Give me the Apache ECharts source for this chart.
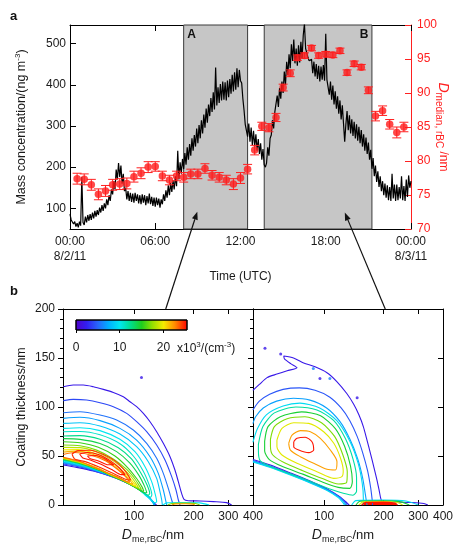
<!DOCTYPE html>
<html>
<head>
<meta charset="utf-8">
<script src="https://cdn.jsdelivr.net/npm/echarts@6/dist/echarts.min.js"></script>
<style>
  html, body { margin: 0; padding: 0; background: #fff; }
  #chart { width: 454px; height: 548px; }
</style>
</head>
<body>
<div id="chart"></div>
<script>
// ---------- Panel a: rBC mass concentration, 5-minute samples from 00:00 8/2/11 ----------
const massStepHours = 1 / 12;
const massConc = [
  86, 72, 76, 62, 68, 56, 64, 54, 68, 58, 176, 66,
  60, 80, 66, 84, 70, 86, 72, 90, 76, 94, 80, 96,
  84, 102, 90, 108, 94, 112, 100, 122, 108, 132, 118, 146,
  134, 166, 146, 194, 170, 210, 176, 204, 160, 184, 142, 150,
  122, 142, 118, 138, 116, 136, 114, 138, 118, 134, 112, 132,
  110, 134, 114, 132, 108, 130, 112, 136, 110, 128, 106, 126,
  104, 126, 108, 124, 102, 122, 110, 134, 118, 144, 126, 156,
  132, 162, 140, 168, 146, 178, 154, 240, 170, 212, 184, 220,
  196, 234, 206, 248, 218, 256, 228, 270, 240, 278, 250, 294,
  258, 302, 270, 314, 282, 328, 296, 342, 308, 352, 324, 368,
  334, 382, 340, 442, 350, 394, 356, 402, 362, 408, 364, 406,
  362, 410, 370, 414, 378, 424, 384, 430, 388, 440, 394, 436,
  410, 404, 366, 338, 304, 304, 274, 306, 262, 296, 254, 288,
  250, 280, 240, 268, 232, 258, 218, 244, 206, 200, 210, 248,
  228, 270, 278, 314, 294, 334, 330, 374, 346, 392, 366, 408,
  380, 432, 400, 456, 424, 474, 440, 498, 458, 510, 452, 488,
  446, 496, 454, 504, 464, 520, 548, 488, 490, 466, 458, 456,
  462, 428, 456, 420, 450, 414, 446, 408, 444, 412, 448, 410,
  524, 412, 414, 376, 408, 364, 398, 352, 384, 342, 372, 330,
  362, 316, 350, 306, 262, 304, 336, 290, 326, 282, 316, 276,
  310, 270, 304, 264, 298, 258, 290, 250, 280, 240, 272, 232,
  260, 218, 242, 196, 222, 178, 204, 164, 190, 152, 178, 142,
  166, 132, 160, 126, 156, 120, 152, 118, 184, 124, 158, 118,
  158, 120, 152, 124, 178, 120, 154, 118, 170, 128, 180, 150,
  166
];

// Median rBC core diameter (nm), half-hourly, with uncertainty
const dMedianHours = [0.5, 1, 1.5, 2, 2.5, 3, 3.5, 4, 4.5, 5, 5.5, 6, 6.5, 7, 7.5, 8, 8.5, 9, 9.5, 10, 10.5, 11, 11.5, 12,
  12.5, 13, 13.5, 14, 14.5, 15, 15.5, 16, 16.5, 17, 17.5, 18, 18.5, 19, 19.5, 20, 20.5, 21, 21.5, 22, 22.5, 23, 23.5];
const dMedian = [77.4, 77.3, 76.5, 75.1, 75.6, 76.5, 76.6, 76.7, 77.7, 78.2, 79.1, 79.2, 77.8, 77.2, 77.8, 77.6, 78.1, 78.1, 78.9, 77.9, 77.6, 77.2, 76.6, 77.5,
  78.8, 81.6, 85.1, 84.9, 86.4, 90.8, 92.9, 95.2, 95.5, 96.6, 95.5, 95.7, 95.6, 96.2, 93.0, 94.3, 93.8, 90.4, 86.6, 87.4, 85.4, 84.2, 85.0];
const dMedianErr = [0.8, 0.8, 0.8, 0.8, 0.8, 0.8, 0.8, 0.8, 0.8, 0.8, 0.8, 0.7, 0.7, 0.7, 0.7, 0.7, 0.7, 0.7, 0.7, 0.7, 0.7, 0.7, 0.8, 0.8,
  0.7, 0.7, 0.6, 0.6, 0.6, 0.5, 0.5, 0.4, 0.4, 0.4, 0.4, 0.4, 0.4, 0.4, 0.4, 0.4, 0.4, 0.5, 0.7, 0.7, 0.7, 0.8, 0.7];

// Sampling periods used for panel b
const periods = [
  { name: 'A', from: 8.0, to: 12.5 },
  { name: 'B', from: 13.67, to: 21.25 }
];

// Tick values and labels
const timeTicks = [0, 6, 12, 18, 24];
const timeTickLabels = ['00:00\n8/2/11', '06:00', '12:00', '18:00', '00:00\n8/3/11'];
const massTicks = [100, 200, 300, 400, 500];
const sizeTicks = [100, 200, 300, 400];
const colorbarTicks = [0, 10, 20];

// ---------- Panel b: number-concentration contours, [D_me,rBC (nm), coating (nm)] ----------
const leftContours = [
  { level: 2, lines: [
    [[43.8,120.7],[49.2,122.4],[55.3,122.4],[62.2,120.7],[69.9,118],[78.5,114.9],[88.2,110.5],[95.3,105.4],[103,100.3],[111.4,93.5],[120.4,85],[130.1,74.8],[140.6,62.9],[152,49.3],[161,35.7],[167.5,23.8],[174,11.9],[179,5.8],[188,4.4],[216,4.1],[252,3.4],[294,2.4],[312,0]],
    [[43.8,40.8],[51.2,38.4],[62.2,34.7],[75.5,29.6],[91.7,22.8],[107.1,15.3],[118,8.5],[128,1],[130,0]]
  ]},
  { level: 4, lines: [
    [[43.8,106.5],[49.2,107.8],[57.5,107.1],[67.2,104.4],[78.5,100.3],[91.7,93.5],[103,85],[115.8,74.8],[130.1,61.2],[143.4,45.9],[155,28.9],[163,15.3],[167.5,5.1],[170.8,0]],
    [[43.8,41.8],[53.2,38.7],[67.2,32.9],[84.8,25.9],[103,17.2],[118,8.7],[127,1.5],[128.5,0]]
  ]},
  { level: 5.5, lines: [
    [[43.8,94.2],[53.2,95.2],[67.2,91.8],[81.6,86.7],[99.1,76.5],[115.8,62.9],[130.1,47.6],[140.6,32.3],[149,17],[155,5.1],[158,0]],
    [[43.8,42.8],[53.2,39.5],[67.2,33.5],[84.8,26.3],[103,17.4],[117,9],[126,2],[127.5,0]]
  ]},
  { level: 7, lines: [
    [[43.8,88.4],[53.2,89.5],[67.2,86.1],[84.8,78.2],[103,66.3],[120.4,49.3],[132.6,32.3],[140.6,15.3],[145,3.4],[146.2,0]],
    [[43.8,43.5],[53.2,40.1],[67.2,33.9],[84.8,26.6],[103,17.5],[116,9.5],[125,2.5],[127,0]]
  ]},
  { level: 8.5, lines: [
    [[43.8,83.3],[53.2,84],[67.2,80.6],[84.8,72.4],[103,59.5],[118,44.2],[130.1,27.2],[135.2,13.6],[138,5.1],[139,0]],
    [[43.8,44.2],[53.2,40.7],[67.2,34.3],[84.8,26.9],[103,17.7],[115,10],[124,3],[126,0]]
  ]},
  { level: 10, lines: [
    [[43.8,78.2],[53.2,78.9],[67.2,75.9],[84.8,67],[101,54.4],[113.6,39.1],[122.7,23.8],[127.6,11.9],[130.1,3.4],[127,2.4],[123,4.8],[114,10],[103,17.5],[84.8,27],[67.2,34.8],[53.2,41.3],[43.8,44.9]]
  ]},
  { level: 11, lines: [
    [[43.8,74.8],[53.2,75],[67.2,71.6],[84.8,62.5],[99.1,50],[111,35],[119,21],[123,10.5],[121,7.8],[116,10.3],[103,17.5],[84.8,27],[67.2,34.9],[53.2,41.7],[43.8,45.6]]
  ]},
  { level: 12.5, lines: [
    [[43.8,70.4],[53.2,70.8],[67.2,67],[83.2,58.5],[97,47],[108,33],[116,21],[120,12],[118,10],[113,11.6],[103,17.4],[88,25],[76,30.2],[67.2,35],[53.2,42.1],[43.8,45.9]]
  ]},
  { level: 14, lines: [
    [[43.8,67.7],[53.2,67],[67.2,62.8],[81.6,54.5],[95,43],[106,30],[113,19],[116,12.5],[112,12.8],[103,17.5],[89,24.8],[76,30.5],[67.2,35.3],[53.2,42.6],[43.8,46.6]]
  ]},
  { level: 15.5, lines: [
    [[43.8,64.6],[53.2,63.6],[65.9,59],[80,50],[93,38],[103,27],[110,18],[112,14],[108,14.5],[100,18.5],[88,24.5],[76,30],[67.2,35.5],[53.2,42.8],[43.8,46.9]]
  ]},
  { level: 17, lines: [
    [[43.8,61.2],[53.2,60.5],[64.6,56],[78.5,47],[92,36],[101,26.5],[107,18.5],[109,15.8],[105,16.8],[98,20],[87,25.5],[76,30.8],[67.2,36],[53.2,43.2],[43.8,47.3]]
  ]},
  { level: 18.5, lines: [
    [[43.8,58.8],[53.2,58.5],[64.6,54],[78.5,45],[91,34.5],[99,26],[104,19.5],[105.5,17.5],[102,18.6],[96,21.5],[86,26.2],[75,31.5],[67.2,36.3],[53.2,43.5],[43.8,47.6]]
  ]},
  { level: 20, lines: [
    [[43.8,56.3],[52.2,56.5],[63.4,52.5],[75.5,44.5],[88,34],[96,26.5],[101,21],[102,19.5],[99,20.2],[94,22.6],[85,27],[74,32.2],[67.2,36.6],[53.2,43.8],[43.8,47.9]]
  ]},
  { level: 21.5, lines: [
    [[43.8,54],[51.2,55],[62.2,51.5],[75.5,43],[86,34],[93,27.5],[98,22],[99,21],[96,21.8],[92,23.8],[83,28],[73,33],[65,37.8],[53.2,44.1],[43.8,48.3]]
  ]},
  { level: 23, lines: [
    [[43.8,51.5],[50,53.5],[60,51],[72,45],[84,35],[91,28.5],[95,23.5],[92,23.8],[88,25.5],[80,29.5],[70,34.5],[62,38.8],[53.2,44.4],[43.8,48.6]]
  ]},
  { level: 24.5, lines: [
    [[48.5,52],[52,55.5],[60,55.8],[70,51.5],[80,45],[88,37],[94,29.5],[96,25.5],[92,25.8],[85,28.8],[76,33.5],[66,39],[57,44],[50,47],[48.5,52]]
  ]},
  { level: 25, lines: [
    [[53,52],[58,53.5],[66,51.5],[76,45],[84,38],[90,31],[86,31],[78,35.5],[68,41.5],[60,46],[55,48],[53,52]],
    [[58,50],[64,50.5],[72,46.5],[79,41],[74,41],[66,45],[60,47.2],[58,50]]
  ]},
  // uncoated-rBC mode along the bottom axis
  { level: 10, lines: [[[140,0],[146,2.2],[175,2.6],[215,2.2],[240,0]]] },
  { level: 17, lines: [[[148,0],[155,1.6],[180,1.9],[205,1.5],[215,0]]] },
  { level: 22, lines: [[[155,0],[162,1.1],[183,1.2],[198,0.9],[203,0]]] }
];
const leftIslands = [[109, 130, 2]];

const rightContours = [
  { level: 2, lines: [
    [[43.6,117],[47,123],[51.4,130],[57.7,133.6],[65,137],[72.9,140],[68,144],[63,149],[62.5,152],[70,150],[78.8,145],[90,141],[103.4,135],[116,126],[130,114],[141,103],[150,92],[158,80],[165,66],[172,52],[179,38],[185,26],[190,15],[194,6],[198,3.5],[230,3],[280,2.5],[320,1.5],[335,0]],
    [[43.6,46.5],[53,41],[67,33],[85,24.5],[103,16.5],[120,8.5],[131,2],[134,0]]
  ]},
  { level: 4.5, lines: [
    [[43.6,97],[47,106],[53,113],[62,118],[75,119.5],[90,117],[107,110],[122,99],[135,86],[147,70],[157,53],[166,35],[172,18],[175,6],[176,0]],
    [[43.6,45.5],[53,40],[67,32.2],[85,23.8],[103,16],[120,8],[129,2],[131,0]]
  ]},
  { level: 7, lines: [
    [[43.6,83],[45,90],[49.2,99],[57.5,106],[69.9,109],[84.8,107],[103,99],[120.4,85],[135.2,67],[148,47],[157,27],[162,10],[164,3],[165,0]],
    [[43.6,44.5],[53,39],[67,31.4],[85,23],[103,15.5],[120,7.5],[127,2],[129,0]]
  ]},
  { level: 9.5, lines: [
    [[43.6,64],[46,78],[51,92],[62,101],[75.5,104],[95,99],[116,86],[135,65],[149,42],[156,22],[158,7],[158,0]],
    [[43.6,44],[53,38.5],[67,30.8],[85,22.5],[103,15],[118,7.5],[125,2],[127,0]]
  ]},
  { level: 12, lines: [
    [[46.5,62],[49,80],[56,94],[72,100],[92,97],[112,86],[128,68],[140,47],[146,28],[146,14],[140,10],[125,12],[108,16],[88,23],[68,31.5],[54,39],[47.5,45],[46.5,55],[46.5,62]]
  ]},
  { level: 14.5, lines: [
    [[50,65],[52,80],[60,90],[77,95],[96,91],[114,78],[127,60],[136,40],[139,24],[135,17],[118,18],[98,23.5],[78,31.5],[62,39],[53,46],[50,55],[50,65]]
  ]},
  { level: 17, lines: [
    [[53.5,67],[56,80],[65,88],[80,90],[97,84],[113,70],[124,52],[131,34],[130,23],[118,21.5],[98,27],[78,35],[63,43],[55,51],[53.5,60],[53.5,67]]
  ]},
  { level: 19.5, lines: [
    [[57.7,66.3],[61.2,78.2],[70.2,84],[83.6,83.3],[99.5,74.8],[112,63],[121,48],[125,35],[123,28.9],[111.8,27.2],[92,34],[72.9,42.5],[61.2,51],[57.7,59.5],[57.7,66.3]]
  ]},
  { level: 22, lines: [
    [[66.2,62.9],[68.8,71.4],[75.8,75.9],[85.2,74.8],[95.7,68],[107.5,56.1],[116.2,44.2],[114,35.7],[103.4,36.4],[88.6,42.5],[75.8,49.3],[67.5,56.1],[66.2,62.9]]
  ]},
  { level: 25, lines: [
    [[70.2,64.6],[72.9,68],[80.3,69.1],[86.8,64.6],[88.6,56.1],[83.6,53.4],[74.4,56.1],[70.2,59.5],[70.2,64.6]]
  ]},
  // uncoated-rBC mode along the bottom axis
  { level: 9.5, lines: [[[138,0],[145,4.5],[200,5],[260,4],[300,0]]] },
  { level: 14.5, lines: [[[145,0],[152,3.8],[200,4.2],[245,3.2],[270,0]]] },
  { level: 19.5, lines: [[[150,0],[158,3.2],[200,3.5],[235,2.5],[250,0]]] },
  { level: 25, fill: true, lines: [[[155,0],[162,2.6],[200,2.8],[228,1.8],[235,0]]] }
];
const rightIslands = [[50.2, 160, 2], [60.3, 154, 2], [88.2, 139.4, 6], [95.3, 129, 2], [107, 129, 6], [147, 109.5, 2]];

// Colour scale (x10^3 cm^-3) shared by the contours and the colour bar
const colorStops = [
  [0, [80, 0, 200]], [2.5, [50, 30, 240]], [5, [40, 100, 250]], [7.5, [0, 175, 255]],
  [10, [0, 230, 240]], [12.5, [0, 220, 140]], [15, [30, 205, 30]], [17.5, [150, 225, 0]],
  [20, [245, 235, 0]], [22.5, [255, 140, 0]], [25, [255, 20, 0]]
];
const colorbarMax = 25.4;

function colorFor(level) {
  for (let i = 1; i < colorStops.length; i++) {
    const [v0, c0] = colorStops[i - 1];
    const [v1, c1] = colorStops[i];
    if (level <= v1) {
      const f = (level - v0) / (v1 - v0);
      const c = c0.map((x, k) => Math.round(x + (c1[k] - x) * f));
      return 'rgb(' + c.join(',') + ')';
    }
  }
  const last = colorStops[colorStops.length - 1][1];
  return 'rgb(' + last.join(',') + ')';
}

const FONT = 'Liberation Sans';
const TXT = '#1a1a1a';
const RED = '#ff2020';

const chart = echarts.init(document.getElementById('chart'), null, { renderer: 'canvas' });

const logMin = 1.64;
const logMax = Math.log10(400);
const sizeTickLogs = sizeTicks.map(v => Math.log10(v));

const subRich = {
  d: { fontSize: 14, fontStyle: 'italic', fontFamily: FONT, color: TXT, lineHeight: 17 },
  s: { fontSize: 9, fontFamily: FONT, color: TXT, lineHeight: 17, verticalAlign: 'bottom', padding: [6, 0, 0, 0] },
  n: { fontSize: 13, fontFamily: FONT, color: TXT, lineHeight: 17 }
};

function sizeAxisBottom(grid) {
  return {
    type: 'value', gridIndex: grid, position: 'bottom', min: logMin, max: logMax,
    axisLine: { onZero: false, lineStyle: { color: '#000', width: 1 } },
    axisTick: { inside: true, length: 5, customValues: sizeTickLogs, lineStyle: { color: '#000' } },
    axisLabel: { customValues: sizeTickLogs, formatter: v => String(Math.round(Math.pow(10, v))), margin: 6, fontSize: 12, color: TXT, fontFamily: FONT },
    splitLine: { show: false },
    name: '{d|D}{s|me,rBC}{n|/nm}', nameLocation: 'middle', nameGap: 22,
    nameTextStyle: { rich: subRich, padding: [0, 10, 0, 0] }
  };
}
function sizeAxisTop(grid) {
  return {
    type: 'value', gridIndex: grid, position: 'top', min: logMin, max: logMax,
    axisLine: { onZero: false, lineStyle: { color: '#000', width: 1 } },
    axisTick: { inside: true, length: 5, customValues: sizeTickLogs.slice(0, 3), lineStyle: { color: '#000' } },
    axisLabel: { show: false }, splitLine: { show: false }
  };
}
function coatingAxis(grid, pos, opts) {
  return Object.assign({
    type: 'value', gridIndex: grid, position: pos, min: 0, max: 200, interval: 50,
    axisLine: { show: true, onZero: false, lineStyle: { color: '#000', width: 1 } },
    axisTick: { inside: pos === 'right', length: 5, lineStyle: { color: '#000' } },
    axisLabel: { show: false }, splitLine: { show: false }
  }, opts || {});
}

const series = [];

// Black trace of mass concentration, with sampling periods shaded behind it
series.push({
  type: 'line', xAxisIndex: 0, yAxisIndex: 0, z: 3,
  data: massConc.map((v, i) => [i * massStepHours, v]),
  showSymbol: false, symbol: 'none', clip: true, silent: true,
  lineStyle: { color: '#000', width: 1.2 },
  markArea: {
    silent: true,
    itemStyle: { color: '#c6c6c6', borderColor: '#3a3a3a', borderWidth: 1 },
    label: { show: true, fontWeight: 'bold', fontSize: 12, color: '#111', fontFamily: FONT, distance: 4 },
    data: periods.map(p => [
      { name: p.name, xAxis: p.from, label: { position: p.name === 'A' ? 'insideTopLeft' : 'insideTopRight' } },
      { xAxis: p.to }
    ])
  }
});

// Error bars for the median diameter
series.push({
  type: 'custom', xAxisIndex: 0, yAxisIndex: 1, z: 4, silent: true,
  data: dMedianHours.map((t, i) => [t, dMedian[i], dMedianErr[i]]),
  encode: { x: 0, y: 1 },
  renderItem: function (params, api) {
    const t = api.value(0), v = api.value(1), e = api.value(2);
    const top = api.coord([t, v + e]);
    const bot = api.coord([t, v - e]);
    const w = 4.5;
    const st = { stroke: RED, lineWidth: 1 };
    return {
      type: 'group', children: [
        { type: 'line', shape: { x1: top[0], y1: top[1], x2: bot[0], y2: bot[1] }, style: st },
        { type: 'line', shape: { x1: top[0] - w, y1: top[1], x2: top[0] + w, y2: top[1] }, style: st },
        { type: 'line', shape: { x1: bot[0] - w, y1: bot[1], x2: bot[0] + w, y2: bot[1] }, style: st }
      ]
    };
  }
});

// Median diameter markers
series.push({
  type: 'scatter', xAxisIndex: 0, yAxisIndex: 1, z: 5, silent: true,
  data: dMedianHours.map((t, i) => [t, dMedian[i]]),
  symbol: 'circle', symbolSize: 7.5,
  itemStyle: { color: '#ff1a1a' }
});

// Contour lines for both size/coating panels
function addContours(contours, axisIndex) {
  contours.forEach(c => {
    const col = colorFor(c.level);
    c.lines.forEach(line => {
      const s = {
        type: 'line', xAxisIndex: axisIndex, yAxisIndex: axisIndex, z: 2, silent: true,
        data: line.map(p => [Math.log10(p[0]), p[1]]),
        showSymbol: false, symbol: 'none', smooth: 0.25, clip: true,
        lineStyle: { color: col, width: c.fill ? 1.5 : 1.1 }
      };
      if (c.fill) s.areaStyle = { color: col, opacity: 1 };
      series.push(s);
    });
  });
}
addContours(leftContours, 2);
addContours(rightContours, 4);

function addIslands(islands, axisIndex) {
  series.push({
    type: 'scatter', xAxisIndex: axisIndex, yAxisIndex: axisIndex, z: 2, silent: true,
    data: islands.map(p => ({ value: [Math.log10(p[0]), p[1]], itemStyle: { color: colorFor(p[2]) } })),
    symbol: 'circle', symbolSize: 3
  });
}
addIslands(leftIslands, 2);
addIslands(rightIslands, 4);

// Colour bar
series.push({
  type: 'custom', xAxisIndex: 6, yAxisIndex: 6, silent: true, z: 2,
  data: [[0, 1]],
  renderItem: function (params, api) {
    const a = api.coord([0, 1]);
    const b = api.coord([colorbarMax, 0]);
    const stops = colorStops.map(([v, c]) => ({ offset: v / colorbarMax, color: 'rgb(' + c.join(',') + ')' }));
    stops.push({ offset: 1, color: 'rgb(' + colorStops[colorStops.length - 1][1].join(',') + ')' });
    return {
      type: 'rect',
      shape: { x: a[0], y: a[1], width: b[0] - a[0], height: b[1] - a[1] },
      style: { fill: new echarts.graphic.LinearGradient(0, 0, 1, 0, stops), stroke: '#000', lineWidth: 1 }
    };
  }
});

const gridBase = { outerBoundsMode: 'none', containLabel: false };
const option = {
  animation: false,
  backgroundColor: '#fff',
  textStyle: { fontFamily: FONT },
  grid: [
    Object.assign({ left: 70, top: 25, width: 341, height: 204 }, gridBase),
    Object.assign({ left: 63, top: 309, width: 190, height: 196 }, gridBase),
    Object.assign({ left: 253, top: 309, width: 190, height: 196 }, gridBase),
    Object.assign({ left: 76, top: 320, width: 111, height: 10 }, gridBase)
  ],
  xAxis: [
    {
      type: 'value', gridIndex: 0, position: 'bottom', min: 0, max: 24, interval: 6,
      axisLine: { onZero: false, lineStyle: { color: '#000', width: 1 } },
      axisTick: { inside: true, length: 6, lineStyle: { color: '#000' } },
      axisLabel: {
        formatter: v => timeTickLabels[timeTicks.indexOf(v)] || '',
        fontSize: 12, lineHeight: 15, color: TXT, margin: 5, fontFamily: FONT
      },
      splitLine: { show: false },
      name: 'Time (UTC)', nameLocation: 'middle', nameGap: 42,
      nameTextStyle: { fontSize: 12, color: TXT, fontFamily: FONT }
    },
    {
      type: 'value', gridIndex: 0, position: 'top', min: 0, max: 24, interval: 6,
      axisLine: { onZero: false, lineStyle: { color: '#000', width: 1 } },
      axisTick: { inside: true, length: 6, lineStyle: { color: '#000' } },
      axisLabel: { show: false }, splitLine: { show: false }
    },
    sizeAxisBottom(1),
    sizeAxisTop(1),
    sizeAxisBottom(2),
    sizeAxisTop(2),
    {
      type: 'value', gridIndex: 3, position: 'bottom', min: 0, max: colorbarMax,
      axisLine: { show: false, onZero: false },
      axisTick: { inside: false, length: 3, customValues: colorbarTicks, lineStyle: { color: '#000' } },
      axisLabel: { customValues: colorbarTicks, fontSize: 12, color: TXT, margin: 12, fontFamily: FONT },
      splitLine: { show: false }
    }
  ],
  yAxis: [
    {
      type: 'value', gridIndex: 0, position: 'left', min: 50, max: 545,
      axisLine: { show: true, onZero: false, lineStyle: { color: '#000', width: 1 } },
      axisTick: { inside: true, length: 6, customValues: massTicks, lineStyle: { color: '#000' } },
      axisLabel: { customValues: massTicks, fontSize: 12, color: TXT, margin: 4, fontFamily: FONT },
      splitLine: { show: false },
      name: '{n|Mass concentration/(ng m}{p|-3}{n|)}', nameLocation: 'middle', nameGap: 40,
      nameTextStyle: {
        rich: {
          n: { fontSize: 12.5, color: TXT, fontFamily: FONT, lineHeight: 16 },
          p: { fontSize: 8, color: TXT, fontFamily: FONT, lineHeight: 16, verticalAlign: 'top', padding: [0, 0, 6, 0] }
        }
      }
    },
    {
      type: 'value', gridIndex: 0, position: 'right', min: 70, max: 100, interval: 5,
      axisLine: { show: true, onZero: false, lineStyle: { color: RED, width: 1 } },
      axisTick: { inside: true, length: 6, lineStyle: { color: RED } },
      axisLabel: { fontSize: 12, color: RED, margin: 6, fontFamily: FONT },
      splitLine: { show: false }
    },
    coatingAxis(1, 'left', {
      axisTick: { inside: false, length: 5, lineStyle: { color: '#000' } },
      minorTick: { show: true, splitNumber: 5, length: 3, lineStyle: { color: '#000' } },
      axisLabel: { show: true, fontSize: 12, color: TXT, margin: 8, fontFamily: FONT },
      name: 'Coating thickness/nm', nameLocation: 'middle', nameGap: 35,
      nameTextStyle: { fontSize: 12.5, color: TXT, fontFamily: FONT }
    }),
    coatingAxis(1, 'right'),
    coatingAxis(2, 'left', {
      axisTick: { inside: false, length: 5, lineStyle: { color: '#000' } },
      minorTick: { show: true, splitNumber: 5, length: 3, lineStyle: { color: '#000' } }
    }),
    coatingAxis(2, 'right'),
    { type: 'value', gridIndex: 3, min: 0, max: 1, show: false }
  ],
  series: series
};

chart.setOption(option);

// Panel letters, right-axis title, colour-bar unit and arrows linking the periods to panel b
function arrow(from, to) {
  const dx = to[0] - from[0], dy = to[1] - from[1];
  const len = Math.sqrt(dx * dx + dy * dy);
  const ux = dx / len, uy = dy / len;
  const L = 8, W = 3;
  const bx = to[0] - ux * L, by = to[1] - uy * L;
  return [
    { type: 'line', z: 100, silent: true, shape: { x1: from[0], y1: from[1], x2: bx, y2: by }, style: { stroke: '#111', lineWidth: 1.2 } },
    { type: 'polygon', z: 100, silent: true, shape: { points: [[to[0], to[1]], [bx - uy * W, by + ux * W], [bx + uy * W, by - ux * W]] }, style: { fill: '#111' } }
  ];
}
const tipA = chart.convertToPixel({ xAxisIndex: 0, yAxisIndex: 0 }, [8.96, 92]);
const tailA = chart.convertToPixel({ xAxisIndex: 2, yAxisIndex: 2 }, [Math.log10(144.6), 200]);
const tipB = chart.convertToPixel({ xAxisIndex: 0, yAxisIndex: 0 }, [19.34, 90]);
const tailB = chart.convertToPixel({ xAxisIndex: 4, yAxisIndex: 4 }, [Math.log10(204), 200]);
const rightTitleY = chart.convertToPixel({ xAxisIndex: 0, yAxisIndex: 1 }, [24, 85])[1];

chart.setOption({
  graphic: [
    { type: 'text', left: 10, top: 10, silent: true, style: { text: 'a', font: 'bold 13px "Liberation Sans"', fill: '#111' } },
    { type: 'text', left: 10, top: 285, silent: true, style: { text: 'b', font: 'bold 13px "Liberation Sans"', fill: '#111' } },
    {
      type: 'text', x: 443, y: rightTitleY, rotation: -Math.PI / 2, silent: true,
      style: {
        text: '{d|D}{s|median, rBC}{n| /nm}',
        align: 'center', verticalAlign: 'middle',
        rich: {
          d: { fontSize: 14, fontStyle: 'italic', fill: RED, fontFamily: FONT, lineHeight: 18 },
          s: { fontSize: 10, fill: RED, fontFamily: FONT, lineHeight: 18, verticalAlign: 'bottom', padding: [7, 0, 0, 0] },
          n: { fontSize: 12, fill: RED, fontFamily: FONT, lineHeight: 18 }
        }
      }
    },
    {
      type: 'text', left: 177, top: 341, silent: true,
      style: {
        text: '{n|x10}{p|3}{n|/(cm}{p|-3}{n|)}',
        rich: {
          n: { fontSize: 12, fill: TXT, fontFamily: FONT, lineHeight: 16 },
          p: { fontSize: 8, fill: TXT, fontFamily: FONT, lineHeight: 16, verticalAlign: 'top', padding: [0, 0, 6, 0] }
        }
      }
    }
  ].concat(arrow(tailA, tipA), arrow(tailB, tipB))
});
</script>
</body>
</html>
